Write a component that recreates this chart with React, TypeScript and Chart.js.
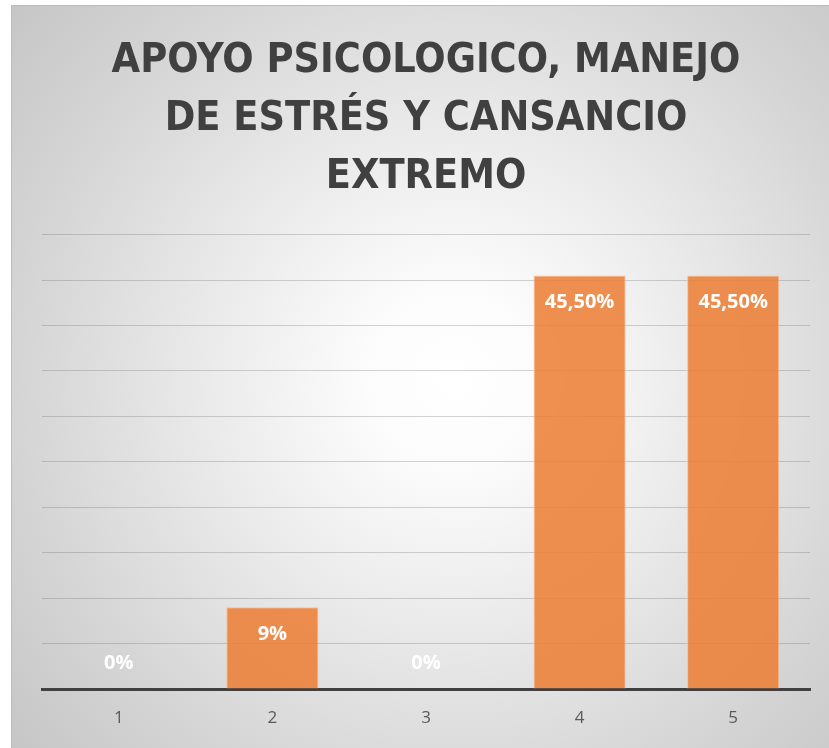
import React, { useEffect, useRef } from "react";
import { Chart, registerables } from "chart.js";

Chart.register(...registerables);

const categories = ["1", "2", "3", "4", "5"];
const values = [0, 9, 0, 45.5, 45.5];
const valueLabels = ["0%", "9%", "0%", "45,50%", "45,50%"];
const titleLines = ["APOYO PSICOLOGICO, MANEJO", "DE ESTRÉS Y CANSANCIO", "EXTREMO"];

const labelPlugin = {
  id: "barLabels",
  afterDatasetsDraw(chart: any) {
    const ctx = chart.ctx;
    const meta = chart.getDatasetMeta(0);
    ctx.save();
    ctx.font = "bold 20px 'Open Sans', sans-serif";
    ctx.fillStyle = "#ffffff";
    ctx.textAlign = "center";
    ctx.textBaseline = "middle";
    meta.data.forEach((bar: any, i: number) => {
      const v = values[i];
      const y = v > 0 ? bar.y + 27 : bar.base - 26;
      ctx.fillText(valueLabels[i], bar.x, y);
    });
    ctx.restore();
  },
};

export default function App() {
  const ref = useRef<HTMLCanvasElement>(null);
  useEffect(() => {
    const chart = new Chart(ref.current!, {
      type: "bar",
      data: {
        labels: categories,
        datasets: [
          {
            data: values,
            backgroundColor: "rgba(237,125,49,0.85)",
            borderColor: "rgba(248,190,150,0.9)",
            borderWidth: 1,
            barPercentage: 0.6,
            categoryPercentage: 1,
          },
        ],
      },
      options: {
        animation: false,
        responsive: false,
        layout: { padding: { left: 30, right: 19, top: 0, bottom: 0 } },
        plugins: {
          legend: { display: false },
          tooltip: { enabled: false },
          title: {
            display: true,
            text: titleLines,
            color: "#404040",
            font: { family: "'DejaVu Sans Condensed', sans-serif", size: 41, weight: "bold", lineHeight: 1.42 },
            padding: { top: 26, bottom: 28 },
          },
        },
        scales: {
          x: {
            grid: { display: false, drawTicks: false },
            border: { display: true, color: "#404040", width: 3 },
            ticks: { color: "#595959", font: { family: "'Open Sans', sans-serif", size: 17 }, padding: 19 },
            afterFit: (s: any) => {
              s.height = 59;
            },
          },
          y: {
            min: 0,
            max: 50,
            ticks: { display: false, stepSize: 5 },
            grid: { color: "rgba(110,110,110,0.3)", lineWidth: 1, drawTicks: false },
            border: { display: false },
            afterFit: (s: any) => {
              s.width = 0;
            },
          },
        },
      },
      plugins: [labelPlugin],
    });
    return () => chart.destroy();
  }, []);
  return (
    <div
      style={{
        position: "fixed",
        left: 11,
        top: 5,
        width: 818,
        height: 743,
        borderLeft: "1px solid #bcbcbc",
        borderTop: "1px solid #bcbcbc",
        background:
          "radial-gradient(circle at 54% 50%, #ffffff 0%, #fcfcfc 15%, #e9e9e9 45%, #d5d5d5 75%, #c6c6c6 100%)",
        overflow: "hidden",
      }}
    >
      <canvas ref={ref} width={817} height={742} style={{ display: "block" }} />
    </div>
  );
}
